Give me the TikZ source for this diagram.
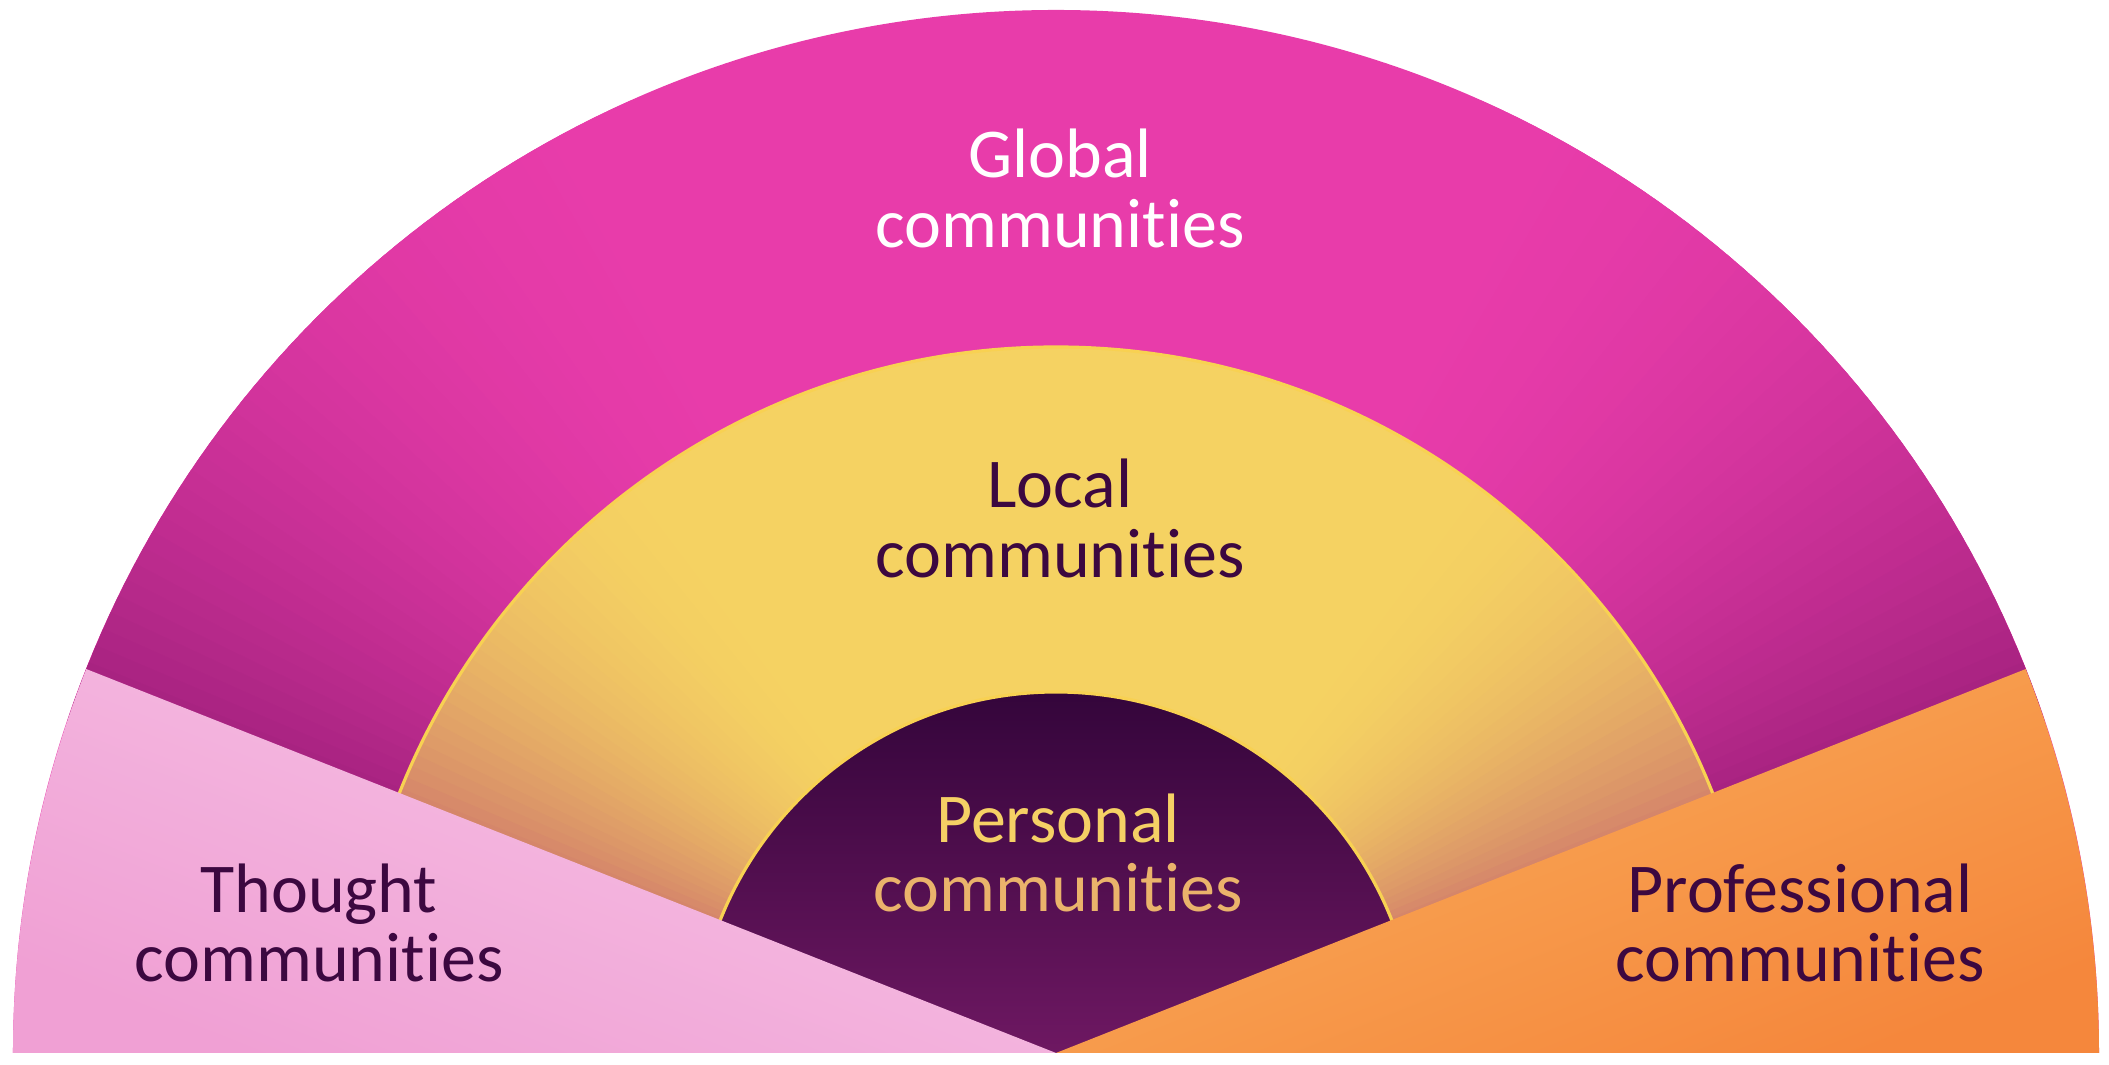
\documentclass[tikz,border=0pt]{standalone}
\usepackage{fontspec}
\setmainfont{Carlito}[Ligatures={NoCommon,NoRequired,NoContextual}]

\definecolor{globalpink}{HTML}{E83CAA}
\definecolor{globaldark}{HTML}{A2217D}
\definecolor{localyellow}{HTML}{F5D262}
\definecolor{localbrown}{HTML}{D5866A}
\definecolor{ringyellow}{HTML}{F8D152}
\definecolor{personaltop}{HTML}{34053B}
\definecolor{personalbottom}{HTML}{6E1862}
\definecolor{thoughtlight}{HTML}{F6C4E6}
\definecolor{thoughtdark}{HTML}{F0A0D4}
\definecolor{proflight}{HTML}{F9AE5B}
\definecolor{profdark}{HTML}{F5873C}
\definecolor{labelplum}{HTML}{3C0840}
\definecolor{personaltextA}{HTML}{F5D065}
\definecolor{personaltextB}{HTML}{EAB36B}

\begin{document}
\begin{tikzpicture}[x=0.01cm, y=0.01cm,
    community text/.style={font=\fontsize{19.9}{19.9}\selectfont, align=center, anchor=base},
    ring line/.style={ringyellow, line width=0.9pt}]

    \useasboundingbox (-1056,-12) rectangle (1053,1053);

    % Draw the global ring, getting darker towards the two wedges
    \fill[globalpink] (1043,0) arc[start angle=0, end angle=180, radius=1043] -- cycle;
    \foreach \a in {114,115,...,160} {
        \pgfmathsetmacro\p{100*((\a-114)/46)^2}
        \pgfmathsetmacro\b{180-\a}
        \fill[globaldark!\p!globalpink] (0,0) -- (\a:1043) arc[start angle=\a, delta angle=1.5, radius=1043] -- cycle;
        \fill[globaldark!\p!globalpink] (0,0) -- (\b:1043) arc[start angle=\b, delta angle=-1.5, radius=1043] -- cycle;
    }

    % Draw the local ring
    \fill[localyellow] (706,0) arc[start angle=0, end angle=180, radius=706] -- cycle;
    \foreach \a in {124,125,...,158} {
        \pgfmathsetmacro\p{100*((\a-124)/34)^2}
        \pgfmathsetmacro\b{180-\a}
        \fill[localbrown!\p!localyellow] (0,0) -- (\a:706) arc[start angle=\a, delta angle=1.5, radius=706] -- cycle;
        \fill[localbrown!\p!localyellow] (0,0) -- (\b:706) arc[start angle=\b, delta angle=-1.5, radius=706] -- cycle;
    }
    \draw[ring line] (706,0) arc[start angle=0, end angle=180, radius=706];

    % Draw the personal half disc
    \shade[top color=personaltop, bottom color=personalbottom] (361,0) arc[start angle=0, end angle=180, radius=361] -- cycle;
    \draw[ring line] (361,0) arc[start angle=0, end angle=180, radius=361];

    % The two wedges on top
    \shade[top color=thoughtlight, bottom color=thoughtdark, shading angle=-21.6]
        (0,0) -- (158.4:1043) arc[start angle=158.4, end angle=180, radius=1043] -- cycle;
    \shade[top color=proflight, bottom color=profdark, shading angle=21.6]
        (0,0) -- (21.6:1043) arc[start angle=21.6, end angle=0, radius=1043] -- cycle;

    % Labels (placed at the baseline of their last line)
    \node[community text, white] (global) at (4,805) {Global\\communities};
    \node[community text, labelplum] (local) at (4,475) {Local\\communities};
    \node[community text, personaltextA] (personal) at (2,141) {Personal\\\color{personaltextB}communities};
    \node[community text, labelplum] (thought) at (-737,71) {Thought\\communities};
    \node[community text, labelplum] (professional) at (744,71) {Professional\\communities};

\end{tikzpicture}
\end{document}
